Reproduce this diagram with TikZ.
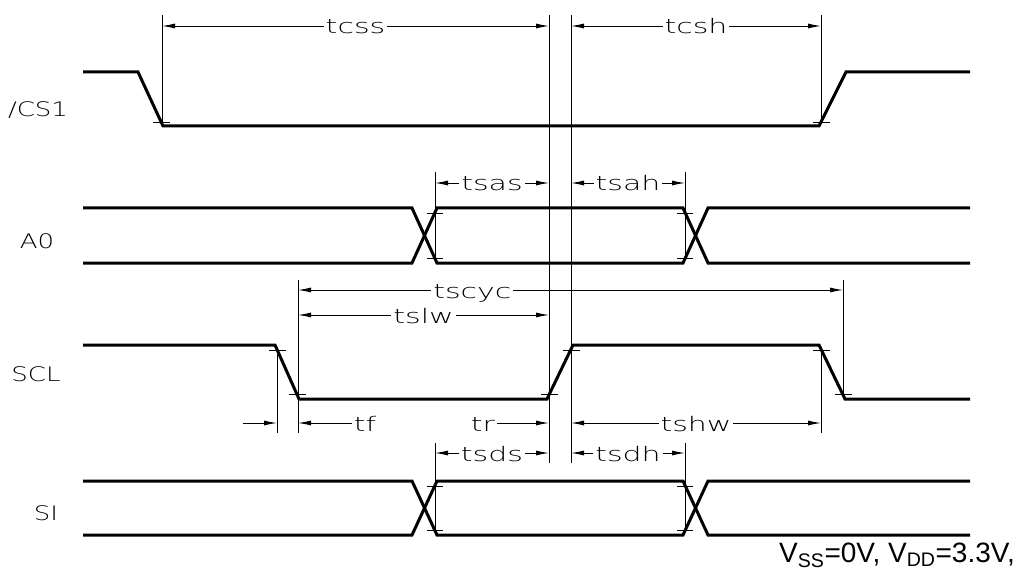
\documentclass[tikz,border=0pt]{standalone}
\usepackage{fontspec}
\newfontfamily\cadfont{DejaVu Sans ExtraLight}[FakeStretch=1.3]
\newfontfamily\cadwide{DejaVu Sans ExtraLight}[FakeStretch=1.5]
\newfontfamily\arialfont{Liberation Sans}
\usetikzlibrary{arrows.meta}

\begin{document}
\begin{tikzpicture}[x=10pt,y=-10pt,
  sig/.style={line width=3pt},
  thinline/.style={line width=0.9pt},
  dimarr/.style={thinline,{Latex[length=13pt,width=5pt]}-{Latex[length=13pt,width=5pt]}},
  onearr/.style={thinline,-{Latex[length=13pt,width=5pt]}},
  lbl/.style={fill=white,inner sep=2pt,text height=16pt,text depth=0pt,font=\cadwide\fontsize{20}{20}\selectfont},
  sidelbl/.style={inner sep=0pt,font=\cadfont\fontsize{20}{20}\selectfont}]
\useasboundingbox (0,0) rectangle (103.2,57.7);
% signals
\draw[sig] (8.3,7.2) -- (13.8,7.2) -- (16.3,12.6) -- (81.9,12.6) -- (84.6,7.2) -- (97,7.2);
\draw[sig] (8.3,20.8) -- (41.2,20.8) -- (43.7,26.3) -- (68.3,26.3) -- (70.8,20.8) -- (97,20.8);
\draw[sig] (8.3,26.3) -- (41.2,26.3) -- (43.7,20.8) -- (68.3,20.8) -- (70.8,26.3) -- (97,26.3);
\draw[sig] (8.3,34.5) -- (27.5,34.5) -- (29.9,39.9) -- (54.7,39.9) -- (57.3,34.5) -- (81.9,34.5) -- (84.5,39.9) -- (97,39.9);
\draw[sig] (8.3,48.1) -- (41.2,48.1) -- (43.7,53.5) -- (68.3,53.5) -- (70.8,48.1) -- (97,48.1);
\draw[sig] (8.3,53.5) -- (41.2,53.5) -- (43.7,48.1) -- (68.3,48.1) -- (70.8,53.5) -- (97,53.5);
% ticks at the switching points
\draw[thinline] (15.3,12.2) -- +(1.7,0) (81.3,12.2) -- +(1.7,0);
\draw[thinline] (42.7,21.3) -- +(1.6,0) (42.7,25.8) -- +(1.6,0) (67.7,21.3) -- +(1.6,0) (67.7,25.8) -- +(1.6,0);
\draw[thinline] (26.9,35.0) -- +(1.7,0) (28.9,39.4) -- +(1.7,0) (54.1,39.4) -- +(1.7,0) (56.3,35.0) -- +(1.7,0) (81.3,35.0) -- +(1.7,0) (83.5,39.4) -- +(1.7,0);
\draw[thinline] (42.7,48.6) -- +(1.6,0) (42.7,53.0) -- +(1.6,0) (67.7,48.6) -- +(1.6,0) (67.7,53.0) -- +(1.6,0);
% extension lines
\draw[thinline] (16.2,1.5) -- (16.2,12.2) (82.1,1.5) -- (82.1,12.2);
\draw[thinline] (54.9,1.5) -- (54.9,46.3) (57.1,1.5) -- (57.1,46.3);
\draw[thinline] (43.5,17.2) -- (43.5,25.8) (68.5,17.2) -- (68.5,25.8);
\draw[thinline] (29.8,28.0) -- (29.8,43.3) (27.7,35.0) -- (27.7,43.3);
\draw[thinline] (82.1,35.0) -- (82.1,43.3) (84.3,28.0) -- (84.3,39.4);
\draw[thinline] (43.5,44.3) -- (43.5,53.0) (68.5,44.3) -- (68.5,53.0);
% dimensions
\draw[dimarr] (16.2,2.6) -- node[lbl] (tcss) {tcss} (54.9,2.6);
\draw[dimarr] (57.1,2.6) -- node[lbl] (tcsh) {tcsh} (82.1,2.6);
\draw[dimarr] (43.5,18.3) -- node[lbl] (tsas) {tsas} (54.9,18.3);
\draw[dimarr] (57.1,18.3) -- node[lbl] (tsah) {tsah} (68.5,18.3);
\draw[dimarr] (29.8,29.0) -- node[lbl,pos=0.32] (tscyc) {tscyc} (84.3,29.0);
\draw[dimarr] (29.8,31.5) -- node[lbl] (tslw) {tslw} (54.9,31.5);
\draw[dimarr] (57.1,42.3) -- node[lbl] (tshw) {tshw} (82.1,42.3);
\draw[dimarr] (43.5,45.3) -- node[lbl] (tsds) {tsds} (54.9,45.3);
\draw[dimarr] (57.1,45.3) -- node[lbl] (tsdh) {tsdh} (68.5,45.3);
\coordinate (tfin) at (24.3,42.3);
\coordinate (tfa) at (27.7,42.3);
\coordinate (tfb) at (29.8,42.3);
\coordinate (trb) at (54.9,42.3);
\node[lbl] (tf) at (36.5,42.3) {tf};
\node[lbl] (tr) at (48.3,42.3) {tr};
\draw[onearr] (tfin) -- (tfa);
\draw[onearr] (tf) -- (tfb);
\draw[onearr] (tr) -- (trb);
% signal names
\node[sidelbl] (cs) at (3.8,11.0) {/CS1};
\node[sidelbl] (a0) at (3.7,24.1) {A0};
\node[sidelbl] (scl) at (3.6,37.4) {SCL};
\node[sidelbl] (si) at (4.6,51.3) {SI};
\node[anchor=base west,inner sep=0pt,font=\arialfont\fontsize{28}{28}\selectfont] (supply) at (77.9,56.2) {V\textsubscript{SS}=0V, V\textsubscript{DD}=3.3V,};
\end{tikzpicture}
\end{document}
